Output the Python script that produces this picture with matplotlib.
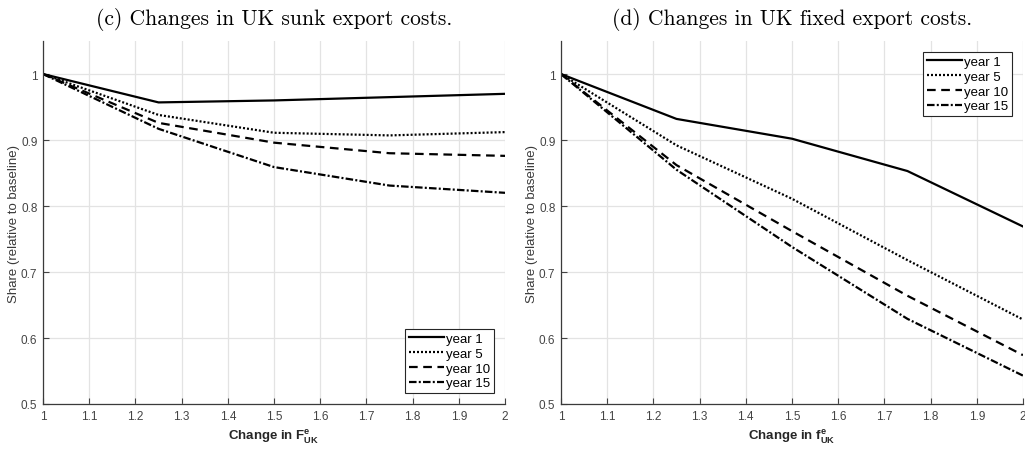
import numpy as np
import matplotlib
matplotlib.use("Agg")
import matplotlib.pyplot as plt

plt.rcParams['font.family'] = ['Liberation Sans', 'DejaVu Sans']
plt.rcParams['mathtext.fontset'] = 'custom'
plt.rcParams['mathtext.rm'] = 'Liberation Sans'
plt.rcParams['mathtext.bf'] = 'Liberation Sans:bold'

# data
x = [1.0, 1.25, 1.5, 1.75, 2.0]
labels = ['year 1', 'year 5', 'year 10', 'year 15']

sunk_y1 = [1.0, 0.957, 0.960, 0.965, 0.970]
sunk_y5 = [1.0, 0.938, 0.911, 0.907, 0.912]
sunk_y10 = [1.0, 0.926, 0.896, 0.880, 0.876]
sunk_y15 = [1.0, 0.917, 0.859, 0.831, 0.820]

fixed_y1 = [1.0, 0.932, 0.902, 0.853, 0.769]
fixed_y5 = [1.0, 0.892, 0.811, 0.718, 0.628]
fixed_y10 = [1.0, 0.862, 0.762, 0.664, 0.574]
fixed_y15 = [1.0, 0.855, 0.738, 0.629, 0.543]

# matlab-ish line styles (in units of linewidth)
styles = ['-', (0, (0.9, 0.9)), (0, (3.9, 2.5)), (0, (3.4, 1.0, 0.9, 1.0))]

fig = plt.figure(figsize=(10.25, 4.52), dpi=100)
ax1 = fig.add_axes([0.042, 0.104, 0.4507, 0.803])
ax2 = fig.add_axes([0.5473, 0.104, 0.4507, 0.803])

panels = [
    (ax1, [sunk_y1, sunk_y5, sunk_y10, sunk_y15], '(c) Changes in UK sunk export costs.',
     r'Change in $\mathbf{F^e_{UK}}$', 'lower right'),
    (ax2, [fixed_y1, fixed_y5, fixed_y10, fixed_y15], '(d) Changes in UK fixed export costs.',
     r'Change in $\mathbf{f^e_{UK}}$', 'upper right'),
]

for ax, series, title, xlab, loc in panels:
    for s, ls, lab in zip(series, styles, labels):
        ax.plot(x, s, color='black', linestyle=ls, linewidth=1.6, label=lab)
    ax.set_xlim(1, 2)
    ax.set_ylim(0.5, 1.05)
    ax.set_xticks(np.arange(1, 2.01, 0.1))
    ax.set_xticklabels(['1', '1.1', '1.2', '1.3', '1.4', '1.5', '1.6', '1.7', '1.8', '1.9', '2'])
    ax.set_yticks([0.5, 0.6, 0.7, 0.8, 0.9, 1.0])
    ax.set_yticklabels(['0.5', '0.6', '0.7', '0.8', '0.9', '1'])
    ax.grid(True, color='#e3e3e3', linewidth=0.9)
    ax.set_axisbelow(True)
    ax.tick_params(direction='in', length=4, labelsize=8.5, colors='#444444', width=0.8, pad=4)
    for sp in ['top', 'right']:
        ax.spines[sp].set_visible(False)
    for sp in ['left', 'bottom']:
        ax.spines[sp].set_color('#3a3a3a')
        ax.spines[sp].set_linewidth(0.9)
    ax.set_ylabel('Share (relative to baseline)', fontsize=9.5, color='#3a3a3a', labelpad=1)
    ax.set_xlabel(xlab, fontsize=9.5, fontweight='bold', color='#262626', labelpad=4)
    ax.set_title(title, family=['cmr10', 'DejaVu Serif'], fontsize=15.5, pad=12)
    leg = ax.legend(loc=loc, fontsize=9.5, handlelength=2.6, handletextpad=0.2,
                    borderpad=0.3, labelspacing=0.2, fancybox=False, framealpha=1,
                    edgecolor='#262626', borderaxespad=0.8)
    leg.get_frame().set_linewidth(0.8)

fig.savefig('out.png', dpi=100)
